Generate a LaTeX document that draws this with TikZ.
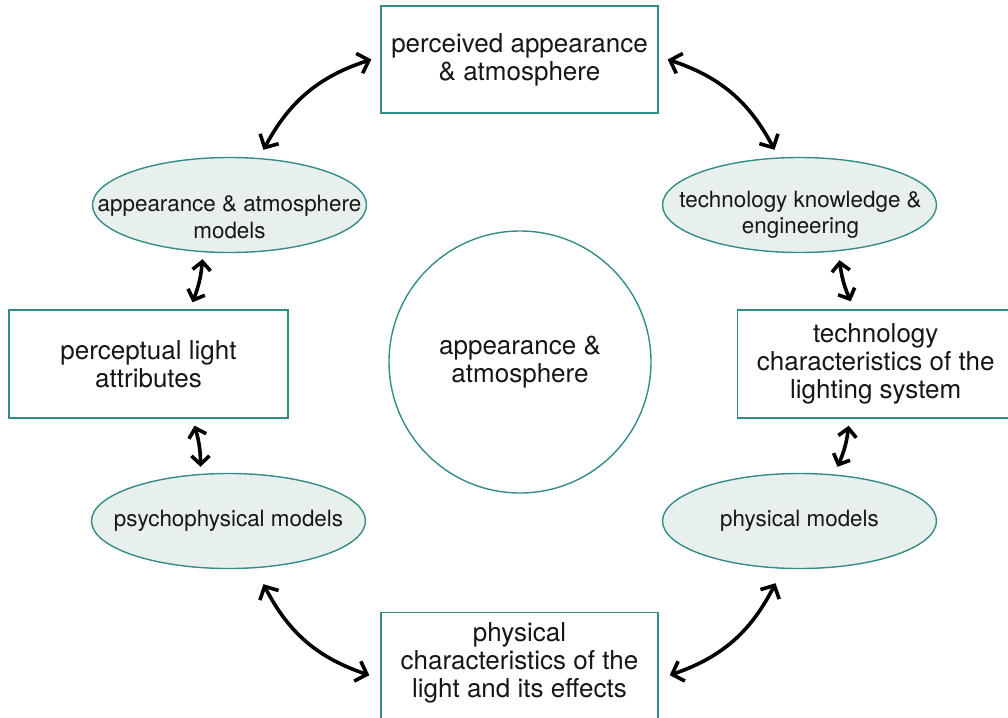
\documentclass[tikz,border=0pt]{standalone}
\usepackage{fontspec}
\setmainfont{TeX Gyre Heros}
\usetikzlibrary{arrows.meta,shapes.geometric}
\definecolor{teal1}{RGB}{52,140,136}
\definecolor{ellfill}{RGB}{232,240,238}
\definecolor{txtcol}{RGB}{22,22,22}
\tikzset{
  boxnode/.style={draw=teal1, line width=1.4pt, fill=white, rectangle, minimum width=277pt, minimum height=107pt, inner sep=0pt, align=center, text=txtcol, font=\fontsize{26}{28}\selectfont},
  ellnode/.style={draw=teal1, line width=1.4pt, fill=ellfill, ellipse, minimum width=274pt, minimum height=95pt, inner xsep=-60pt, inner ysep=-15pt, align=center, text=txtcol, font=\fontsize{22.4}{26}\selectfont},
  elltxt/.style={align=center, text=txtcol, inner sep=0pt, font=\fontsize{22.4}{26}\selectfont},
  circnode/.style={draw=teal1, line width=1.4pt, circle, minimum size=262pt, inner sep=0pt, align=center, text=txtcol, font=\fontsize{26}{28}\selectfont},
  txtnode/.style={align=center, text=txtcol, inner sep=0pt, font=\fontsize{26}{28}\selectfont},
  biarr/.style={line width=3.6pt, black, {Straight Barb[length=10pt,width=21pt]}-{Straight Barb[length=10pt,width=21pt]}},
  smallarr/.style={line width=3.6pt, black, {Straight Barb[length=8.5pt,width=18pt]}-{Straight Barb[length=8.5pt,width=18pt]}}
}
\begin{document}
\begin{tikzpicture}[x=1pt,y=-1pt]
\path[use as bounding box] (0,0) rectangle (1008,717);
% nodes
\node[boxnode] (top) at (519.5,59.5) {perceived appearance\\\& atmosphere};
\node[ellnode] (al) at (229.5,205) {};
\node[elltxt] (altxt) at (229.5,217) {appearance \& atmosphere\\models};
\node[ellnode] (ar) at (799.5,205) {};
\node[elltxt] (artxt) at (800.5,215) {technology knowledge \&\\engineering};
\node[boxnode, minimum width=279pt, minimum height=108pt] (lb) at (148.5,364) {perceptual light\\attributes};
\node[boxnode, minimum width=276pt, minimum height=108pt, anchor=west] (rb) at (737,364) {technology\\characteristics of the\\lighting system};
\node[circnode] (c) at (520,362) {appearance \&\\atmosphere};
\node[ellnode] (bl) at (228.5,521) {psychophysical models};
\node[ellnode] (br) at (799.5,521) {physical models};
\node[boxnode, minimum height=125pt, anchor=north] (bot) at (519.5,612) {};
\node[txtnode] (bottxt) at (519.5,663) {physical\\characteristics of the\\light and its effects};
% curved connectors
\draw[biarr] ([shift={(34,-7)}]al.north) to[bend left=22] ([shift={(-9,0)}]top.west);
\draw[biarr] ([shift={(9,0)}]top.east) to[bend left=22] ([shift={(-25,-7)}]ar.north);
\draw[biarr] ([shift={(35,15)}]bl.south) to[bend right=22] ([shift={(-11,0)}]bot.west);
\draw[biarr] ([shift={(11,0)}]bot.east) to[bend right=22] ([shift={(-24,14)}]br.south);
% short connectors
\draw[smallarr] ([shift={(-27,6)}]al.south) to[bend left=8] ([shift={(44,-7)}]lb.north);
\draw[smallarr] ([shift={(46,7)}]lb.south) to[bend left=8] ([shift={(-28,-6)}]bl.north);
\draw[smallarr] ([shift={(40,7)}]ar.south) to[bend right=8] ([shift={(-25,-8)}]rb.north);
\draw[smallarr] ([shift={(-27,7)}]rb.south) to[bend left=8] ([shift={(38,-6)}]br.north);
\end{tikzpicture}
\end{document}
